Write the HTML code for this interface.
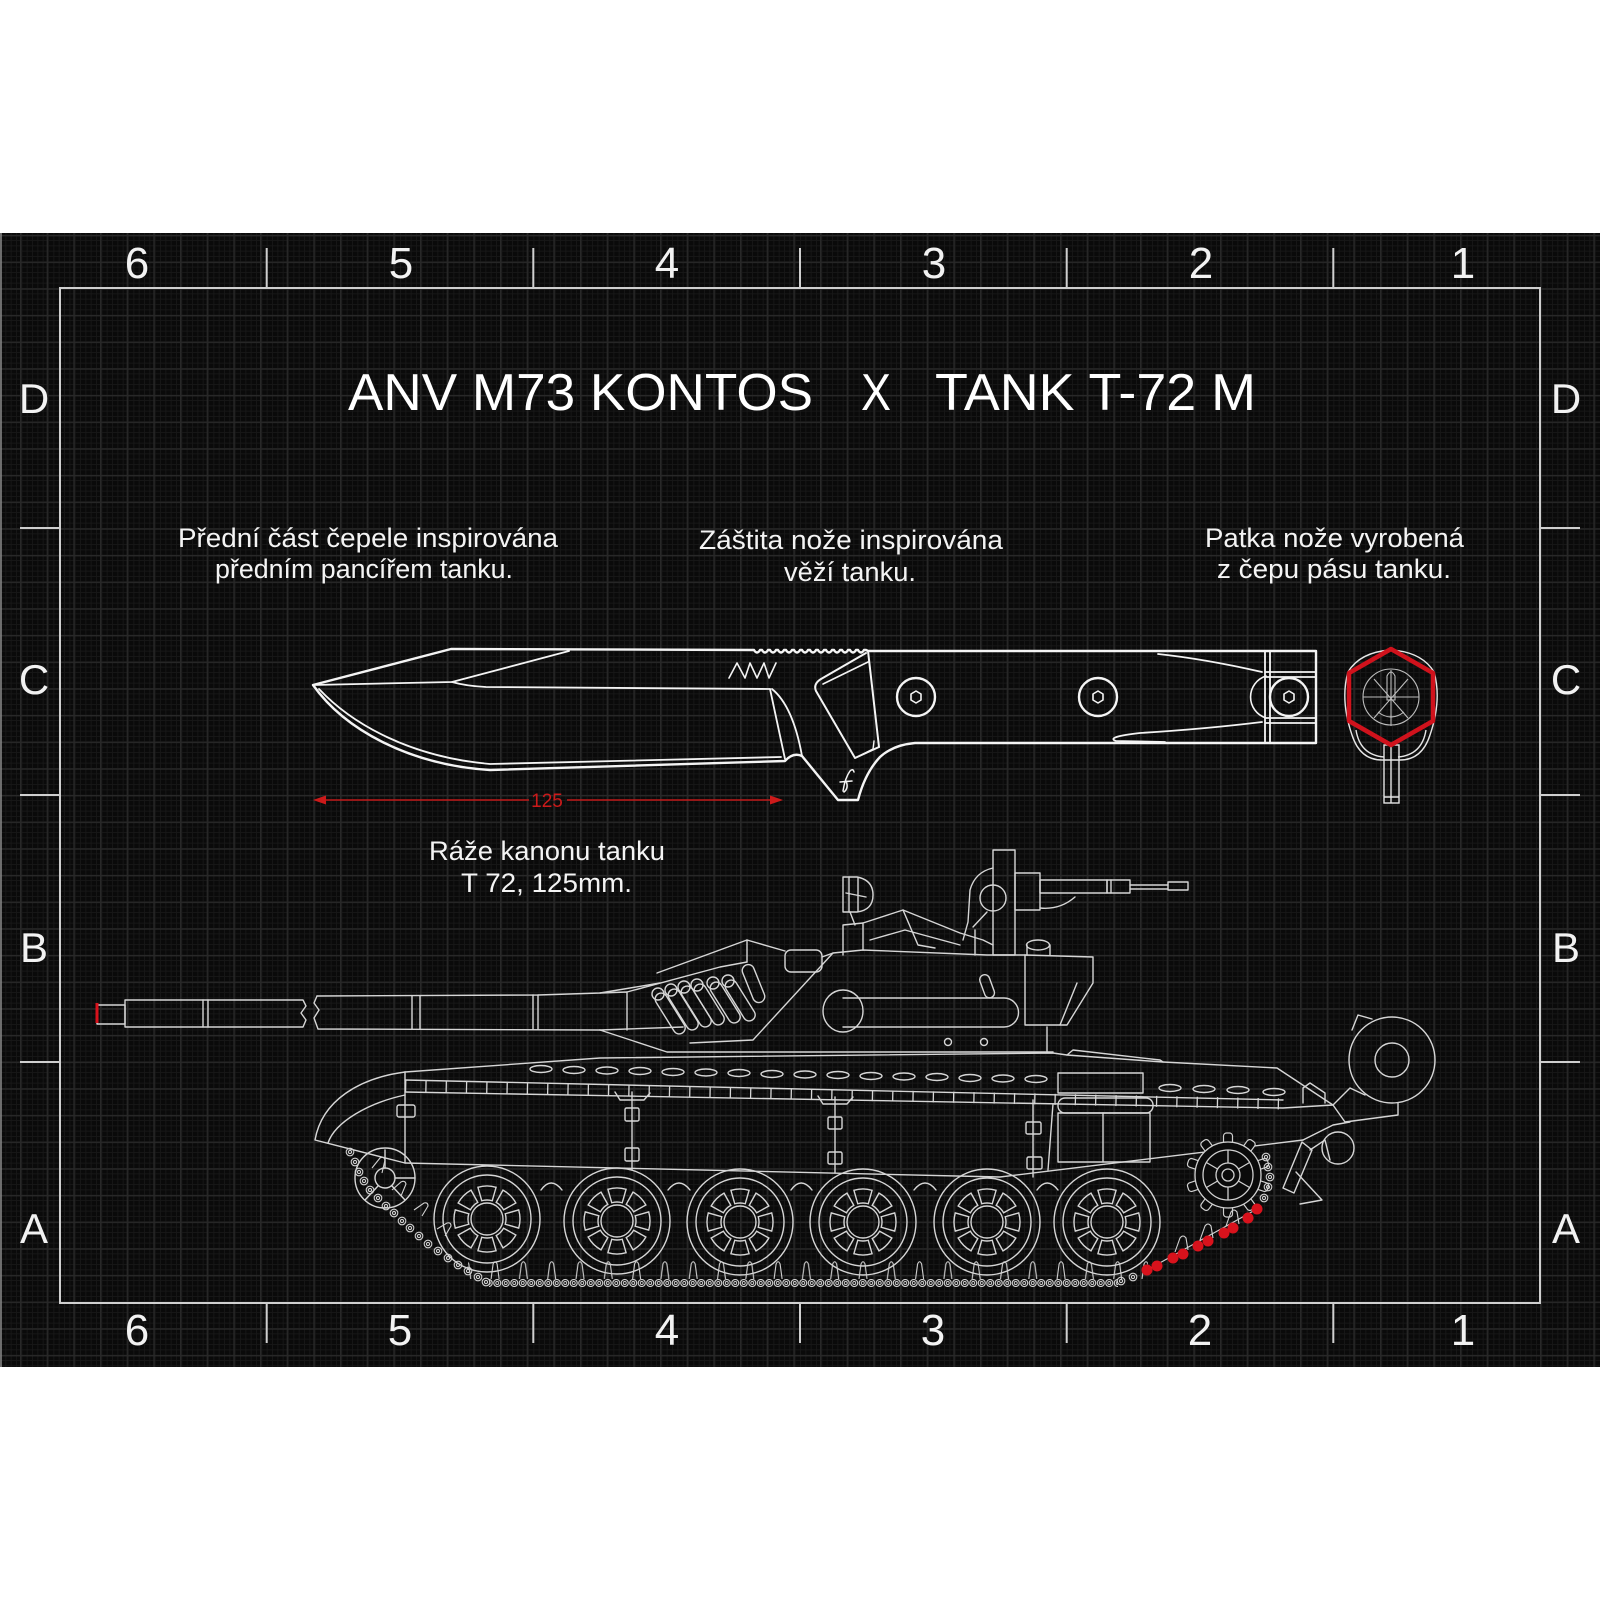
<!DOCTYPE html>
<html>
<head>
<meta charset="utf-8">
<style>
html,body{margin:0;padding:0;background:#fff;width:1600px;height:1600px;overflow:hidden}
svg{display:block}
</style>
</head>
<body>
<svg width="1600" height="1600" viewBox="0 0 1600 1600" xmlns="http://www.w3.org/2000/svg" xmlns:xlink="http://www.w3.org/1999/xlink">
<defs>
  <pattern id="gmin" x="0" y="0" width="5.3333" height="5.3333" patternUnits="userSpaceOnUse">
    <path d="M0 0.5H5.3333M0.5 0V5.3333" stroke="#171717" stroke-width="1" fill="none"/>
  </pattern>
  <pattern id="gmaj" x="20" y="21.7" width="26.667" height="26.667" patternUnits="userSpaceOnUse">
    <path d="M0 0.7H26.667M0.7 0V26.667" stroke="#282828" stroke-width="1.4" fill="none"/>
  </pattern>
  <pattern id="trk" x="0" y="1279" width="8.5" height="8" patternUnits="userSpaceOnUse">
    <circle cx="4.25" cy="4" r="3.5" fill="none" stroke="#d0d0d0" stroke-width="1.1"/>
    <circle cx="4.25" cy="4" r="1.5" fill="none" stroke="#d0d0d0" stroke-width="0.9"/>
  </pattern>
  <pattern id="horn" x="0" y="1258" width="28.3" height="21" patternUnits="userSpaceOnUse">
    <path d="M10,21 L12,6 Q14,1.5 16,6 L18,21" fill="none" stroke="#d0d0d0" stroke-width="1.1"/>
  </pattern>
  <g id="lk" fill="none" stroke="#d0d0d0" stroke-width="1.1">
    <circle r="3.8"/><circle r="1.6"/>
  </g>
  <path id="hole" d="M18.26,-5.24 L31.72,-9.10 A33,33 0 0 1 31.72,9.10 L18.26,5.24 A19,19 0 0 0 18.26,-5.24 Z"/>
  <g id="wh" fill="none" stroke="#d6d6d6" stroke-width="1.4">
    <circle r="53"/><circle r="44"/><circle r="16"/>
    <use xlink:href="#hole" transform="rotate(0)"/>
    <use xlink:href="#hole" transform="rotate(45)"/>
    <use xlink:href="#hole" transform="rotate(90)"/>
    <use xlink:href="#hole" transform="rotate(135)"/>
    <use xlink:href="#hole" transform="rotate(180)"/>
    <use xlink:href="#hole" transform="rotate(225)"/>
    <use xlink:href="#hole" transform="rotate(270)"/>
    <use xlink:href="#hole" transform="rotate(315)"/>
  </g>
  <rect id="tooth" x="-4.5" y="-42" width="9" height="12" rx="3" fill="#0b0b0b" stroke="#d0d0d0" stroke-width="1.2"/>
</defs>

<!-- white page -->
<rect x="0" y="0" width="1600" height="1600" fill="#ffffff"/>
<!-- dark band with grid -->
<rect x="0" y="233" width="1600" height="1134" fill="#0a0a0a"/>
<rect x="0" y="233" width="1600" height="1134" fill="url(#gmin)"/>
<rect x="0" y="233" width="1600" height="1134" fill="url(#gmaj)"/>
<line x1="1" y1="233" x2="1" y2="1367" stroke="#8a8a8a" stroke-width="1.5"/>

<!-- frame and ticks -->
<g stroke="#cfcfcf" stroke-width="2" fill="none">
  <rect x="60" y="288" width="1480" height="1015"/>
  <path d="M266.7,248V288M533.3,248V288M800,248V288M1066.7,248V288M1333.3,248V288"/>
  <path d="M266.7,1303V1343M533.3,1303V1343M800,1303V1343M1066.7,1303V1343M1333.3,1303V1343"/>
  <path d="M20,528H60M20,795H60M20,1062H60"/>
  <path d="M1540,528H1580M1540,795H1580M1540,1062H1580"/>
</g>

<!-- border labels -->
<g font-family="'Liberation Sans', sans-serif" fill="#f2f2f2" text-anchor="middle">
  <g font-size="44">
    <text x="137" y="278">6</text><text x="401" y="278">5</text><text x="667" y="278">4</text>
    <text x="934" y="278">3</text><text x="1201" y="278">2</text><text x="1463" y="278">1</text>
  </g>
  <g font-size="44">
    <text x="137" y="1345">6</text><text x="400" y="1345">5</text><text x="667" y="1345">4</text>
    <text x="933" y="1345">3</text><text x="1200" y="1345">2</text><text x="1463" y="1345">1</text>
  </g>
  <g font-size="42">
    <text x="34" y="413">D</text><text x="34" y="694">C</text><text x="34" y="962">B</text><text x="34" y="1243">A</text>
    <text x="1566" y="413">D</text><text x="1566" y="694">C</text><text x="1566" y="962">B</text><text x="1566" y="1243">A</text>
  </g>
</g>

<!-- title -->
<g font-family="'Liberation Sans', sans-serif" fill="#ffffff" font-size="52">
  <text x="348" y="410" textLength="465" lengthAdjust="spacingAndGlyphs">ANV M73 KONTOS</text>
  <text x="861" y="410" textLength="30" lengthAdjust="spacingAndGlyphs">X</text>
  <text x="935" y="410" textLength="321" lengthAdjust="spacingAndGlyphs">TANK T-72 M</text>
</g>

<!-- captions -->
<g font-family="'Liberation Sans', sans-serif" fill="#f4f4f4" font-size="27">
  <text x="178" y="547" textLength="380" lengthAdjust="spacingAndGlyphs">Přední část čepele inspirována</text>
  <text x="215" y="578" textLength="298" lengthAdjust="spacingAndGlyphs">předním pancířem tanku.</text>
  <text x="699" y="549" textLength="304" lengthAdjust="spacingAndGlyphs">Záštita nože inspirována</text>
  <text x="784" y="581" textLength="132" lengthAdjust="spacingAndGlyphs">věží tanku.</text>
  <text x="1205" y="547" textLength="259" lengthAdjust="spacingAndGlyphs">Patka nože vyrobená</text>
  <text x="1217" y="578" textLength="234" lengthAdjust="spacingAndGlyphs">z čepu pásu tanku.</text>
  <text x="429" y="860" textLength="236" lengthAdjust="spacingAndGlyphs">Ráže kanonu tanku</text>
  <text x="461" y="892" textLength="171" lengthAdjust="spacingAndGlyphs">T 72, 125mm.</text>
</g>

<!-- ================= KNIFE ================= -->
<g fill="none" stroke="#f4f4f4" stroke-width="2.4" stroke-linejoin="round" stroke-linecap="round">
  <path d="M313,685 L451,649 L754,650
           q3,5 6,0 l2,0 q3,5 6,0 l2,0 q3,5 6,0 l2,0 q3,5 6,0 l2,0 q3,5 6,0 l2,0
           q3,5 6,0 l2,0 q3,5 6,0 l2,0 q3,5 6,0 l2,0 q3,5 6,0 l2,0 q3,5 6,0 l2,0
           q3,5 6,0 l2,0 q3,5 6,0 l2,0 q3,5 6,0 l2,0 q3,5 6,0 l2,0
           L868,651 L1316,651 L1316,743 L915,743
           Q893,745 880,757 Q865,773 858,800 L838,800 L802,756 Q793,752 785,761
           L490,770 C410,765 345,730 313,685 Z"/>
  <path d="M319,689 C352,724 410,757 490,764 L781,757" stroke-width="1.8"/>
  <path d="M313,685 L452,682 L569,651" stroke-width="1.8"/>
  <path d="M452,682 Q466,686 486,687 L770,689" stroke-width="1.8"/>
  <path d="M770,689 L785,759" stroke-width="1.8"/>
  <path d="M772,689 Q793,706 802,756" stroke-width="1.8"/>
  <path d="M868,651 L879,747" stroke-width="2"/>
  <path d="M866,653 L821,679 Q813,684 816,691 L855,758 L879,747" stroke-width="2"/>
  <path d="M868,662 L823,684" stroke-width="1.6"/>
  <path d="M855,758 L873,749 L874,741" stroke-width="1.4"/>
  <path d="M843,791 Q845,778 850,771 Q853,768 854,772 M840,782 L852,781 M846,781 Q849,788 844,792" stroke-width="1.5"/>
  <path d="M729,678 L737,663 L745,678 L750,663 L757,678 L764,663 L769,678 L776,663" stroke-width="1.6"/>
  <circle cx="916" cy="697" r="19"/>
  <circle cx="1098" cy="697" r="19"/>
  <circle cx="1289" cy="697" r="19"/>
  <path d="M916,691 L921,694 L921,700 L916,703 L911,700 L911,694 Z" stroke-width="1.6"/>
  <path d="M1098,691 L1103,694 L1103,700 L1098,703 L1093,700 L1093,694 Z" stroke-width="1.6"/>
  <path d="M1289,691 L1294,694 L1294,700 L1289,703 L1284,700 L1284,694 Z" stroke-width="1.6"/>
  <path d="M1266,676 A22,22 0 0 0 1266,718" stroke-width="1.6"/>
  <path d="M1265,651 V743 M1270,651 V743 M1265,672 H1316 M1265,677 H1316 M1265,718 H1316 M1265,723 H1316" stroke-width="1.8"/>
  <path d="M1158,654 Q1205,659 1262,672" stroke-width="1.8"/>
  <path d="M1262,722 Q1205,729 1140,733 Q1105,737 1116,741 L1165,742" stroke-width="1.8"/>
</g>

<!-- pommel end view -->
<g fill="none" stroke="#e6e6e6" stroke-width="1.4">
  <path d="M1352,735 Q1340,700 1348,672 Q1360,652 1391,650 Q1422,652 1434,672 Q1442,700 1430,735 Q1422,760 1400,760 L1382,760 Q1360,760 1352,735 Z"/>
  <path d="M1356,730 Q1360,755 1384,757 M1426,730 Q1422,755 1398,757"/>
  <rect x="1384" y="745" width="15" height="58"/>
  <path d="M1391,745 V803 M1384,797 H1399"/>
</g>
<g fill="none" stroke="#bdbdbd" stroke-width="1.1">
  <circle cx="1391" cy="697" r="28"/>
  <path d="M1363,697 H1419"/>
  <path d="M1374,679 L1408,718 M1408,679 L1374,718 M1391,670 V726"/>
  <path d="M1387,676 Q1391,668 1395,676 L1395,700 L1387,700 Z"/>
  <path d="M1378,712 Q1391,722 1404,712"/>
</g>
<path d="M1391,649 L1433,673 L1433,721 L1391,745 L1349,721 L1349,673 Z" fill="none" stroke="#d0121c" stroke-width="4.5" stroke-linejoin="round"/>

<!-- dimension 125 -->
<g fill="#cc1a1a" stroke="none">
  <rect x="320" y="799.3" width="209" height="1.4"/>
  <rect x="567" y="799.3" width="204" height="1.4"/>
  <polygon points="313,800 326,795.5 326,804.5"/>
  <polygon points="783,800 770,795.5 770,804.5"/>
  <text x="547" y="807" font-family="'Liberation Sans', sans-serif" font-size="19" text-anchor="middle">125</text>
</g>

<!-- ================= TANK ================= -->
<g fill="none" stroke="#d6d6d6" stroke-width="1.4" stroke-linejoin="round" stroke-linecap="round">
  <rect x="97" y="1005" width="28" height="19"/>
  <path d="M125,1000 H303 L306,1006 L301,1013 L306,1020 L303,1027 H125 Z"/>
  <path d="M203,1000V1027 M208,1000V1027"/>
  <path d="M317,996 L314,1003 L319,1010 L314,1018 L318,1029 L600,1030"/>
  <path d="M317,996 L538,995 L600,993 L660,983"/>
  <path d="M412,996V1029 M420,996V1029 M533,995V1029 M538,995V1029"/>

  <path d="M600,993 L627,992 V1030"/>
  <path d="M627,992 L720,967 L747,962"/>
  <path d="M657,973 L747,940"/>
  <path d="M600,1030 L683,1027"/>
  <path d="M600,1030 L667,1052 L1053,1052"/>
  <path d="M690,1043 L753,1040 L833,953"/>
  <path d="M747,962 L747,940 L785,951"/>
  <rect x="785" y="950" width="37" height="22" rx="6"/>
  <path d="M822,957 L833,953 L863,950 L987,955 L1025,955"/>
  <path d="M843,955 V925 L863,923 V950"/>
  <path d="M863,923 L903,910 L960,933 L983,940 L993,945"/>
  <path d="M903,910 L918,945 L935,948"/>
  <path d="M870,940 L905,930 L960,945"/>
  <g>
    <rect x="-6" y="0" width="12" height="46" rx="6" transform="translate(658,994) rotate(-32)"/>
    <rect x="-6" y="0" width="12" height="46" rx="6" transform="translate(671,990) rotate(-32)"/>
    <rect x="-6" y="0" width="12" height="46" rx="6" transform="translate(684,987) rotate(-32)"/>
    <rect x="-6" y="0" width="12" height="46" rx="6" transform="translate(697,985) rotate(-32)"/>
    <rect x="-6" y="0" width="12" height="46" rx="6" transform="translate(713,983) rotate(-32)"/>
    <rect x="-6" y="0" width="12" height="46" rx="6" transform="translate(728,981) rotate(-32)"/>
    <ellipse cx="658" cy="994" rx="6" ry="6"/>
    <ellipse cx="671" cy="990" rx="6" ry="6"/>
    <ellipse cx="684" cy="987" rx="6" ry="6"/>
    <ellipse cx="697" cy="985" rx="6" ry="6"/>
    <ellipse cx="713" cy="983" rx="6" ry="6"/>
    <ellipse cx="728" cy="981" rx="6" ry="6"/>
    <rect x="-6" y="0" width="12" height="40" rx="6" transform="translate(746,965) rotate(-22)"/>
  </g>
  <path d="M843,998 H1004 A14.5,14.5 0 0 1 1004,1027 H843"/>
  <ellipse cx="843" cy="1011" rx="20" ry="21"/>
  <rect x="-5" y="0" width="10" height="24" rx="5" transform="translate(983,975) rotate(-20)"/>
  <circle cx="948" cy="1042" r="3.5"/>
  <circle cx="984" cy="1042" r="3.5"/>
  <path d="M843,877 H857 Q873,880 873,895 Q873,910 857,912 H843 Z"/>
  <path d="M849,877 V912 M846,893 L866,897 M858,878 V911"/>
  <path d="M850,912 L855,925"/>
  <path d="M1025,955 L1093,957 V983 L1067,1025 H1025 Z"/>
  <path d="M1077,983 L1060,1025 M1047,1027 V1052"/>
  <path d="M1027,955 V945 M1050,955 V945"/>
  <ellipse cx="1038" cy="945" rx="11.5" ry="5"/>
  <rect x="993" y="850" width="22" height="105"/>
  <rect x="1015" y="873" width="25" height="37"/>
  <rect x="1040" y="880" width="67" height="13"/>
  <rect x="1107" y="880" width="23" height="13"/>
  <path d="M1111,880 V893 M1130,885 H1168 M1130,889 H1168"/>
  <rect x="1168" y="882" width="20" height="8"/>
  <path d="M1040,908 Q1060,910 1075,897"/>
  <circle cx="993" cy="898" r="13"/>
  <path d="M963,940 L968,922 L970,890 Q975,872 993,868"/>
  <path d="M973,927 L987,912 M975,955 L975,930"/>

  <path d="M405,1072 C360,1078 322,1100 315,1140 L405,1163"/>
  <path d="M405,1095 C368,1103 335,1122 328,1143"/>
  <path d="M405,1072 V1163"/>
  <rect x="397" y="1105" width="18" height="12" rx="2"/>
  <path d="M405,1072 L600,1058 L1053,1053 L1067,1055 L1163,1062 L1277,1068 L1333,1105"/>
  <path d="M405,1080 L1283,1100"/>
  <path d="M405,1092 L1283,1108 L1333,1105"/>
  <path d="M405,1086 L1283,1104" stroke-width="11" stroke-dasharray="1.3 19" stroke-linecap="butt"/>
  <g>
    <ellipse cx="541" cy="1069" rx="11" ry="3.5"/>
    <ellipse cx="574" cy="1070" rx="11" ry="3.5"/>
    <ellipse cx="607" cy="1070.5" rx="11" ry="3.5"/>
    <ellipse cx="640" cy="1071" rx="11" ry="3.5"/>
    <ellipse cx="673" cy="1072" rx="11" ry="3.5"/>
    <ellipse cx="706" cy="1072.5" rx="11" ry="3.5"/>
    <ellipse cx="739" cy="1073" rx="11" ry="3.5"/>
    <ellipse cx="772" cy="1074" rx="11" ry="3.5"/>
    <ellipse cx="805" cy="1074.5" rx="11" ry="3.5"/>
    <ellipse cx="838" cy="1075" rx="11" ry="3.5"/>
    <ellipse cx="871" cy="1076" rx="11" ry="3.5"/>
    <ellipse cx="904" cy="1076.5" rx="11" ry="3.5"/>
    <ellipse cx="937" cy="1077" rx="11" ry="3.5"/>
    <ellipse cx="970" cy="1078" rx="11" ry="3.5"/>
    <ellipse cx="1003" cy="1078.5" rx="11" ry="3.5"/>
    <ellipse cx="1036" cy="1079" rx="11" ry="3.5"/>
    <ellipse cx="1170" cy="1088" rx="11" ry="3.5"/>
    <ellipse cx="1204" cy="1089" rx="11" ry="3.5"/>
    <ellipse cx="1238" cy="1090" rx="11" ry="3.5"/>
    <ellipse cx="1274" cy="1092" rx="11" ry="3.5"/>
  </g>
  <path d="M405,1163 L1000,1177 L1303,1140"/>
  <path d="M632,1092 V1170 M835,1097 V1173 M1033,1100 V1177"/>
  <rect x="625" y="1108" width="14" height="13" rx="1.5"/>
  <rect x="625" y="1148" width="14" height="13" rx="1.5"/>
  <rect x="828" y="1117" width="14" height="12" rx="1.5"/>
  <rect x="828" y="1152" width="14" height="12" rx="1.5"/>
  <rect x="1026" y="1122" width="15" height="12" rx="1.5"/>
  <rect x="1027" y="1157" width="15" height="12" rx="1.5"/>
  <path d="M615,1092 L620,1100 H644 L650,1093 M818,1096 L823,1104 H847 L853,1097"/>
  <rect x="1058" y="1073" width="85" height="20"/>
  <rect x="1058" y="1098" width="95" height="15" rx="7"/>
  <rect x="1058" y="1113" width="92" height="49"/>
  <path d="M1103,1113 V1162 M1053,1104 L1048,1170"/>
  <path d="M1067,1055 L1073,1050 L1160,1060 L1163,1062"/>
  <path d="M1303,1103 V1088 L1310,1083 L1325,1093 V1103"/>
  <circle cx="1392" cy="1060" r="43"/>
  <circle cx="1392" cy="1060" r="17"/>
  <path d="M1352,1030 L1358,1015 L1372,1019"/>
  <path d="M1333,1105 L1350,1088 L1365,1095 M1333,1105 L1345,1122 L1398,1115 V1103"/>
  <path d="M1303,1140 L1333,1125 L1350,1122"/>
  <circle cx="1338" cy="1148" r="16"/>
  <path d="M1302,1142 L1283,1188 L1294,1193 L1312,1150 Z"/>
  <path d="M1296,1172 L1322,1200 L1300,1204"/>
  <path d="M1310,1150 L1325,1140 L1330,1160"/>

  <circle cx="385" cy="1178" r="30"/>
  <circle cx="385" cy="1178" r="10"/>
  <path d="M385,1168 V1150 M395,1178 H415 M378,1186 L365,1200 M392,1186 L405,1200"/>

  <path d="M541,1190 Q551,1176 562,1190 M668,1190 Q679,1176 690,1190 M791,1190 Q801,1176 812,1190 M914,1190 Q925,1176 936,1190 M1037,1190 Q1047,1176 1058,1190"/>
</g>

<use xlink:href="#wh" transform="translate(487,1219)"/>
<use xlink:href="#wh" transform="translate(617,1221)"/>
<use xlink:href="#wh" transform="translate(740,1222)"/>
<use xlink:href="#wh" transform="translate(863,1222)"/>
<use xlink:href="#wh" transform="translate(987,1222)"/>
<use xlink:href="#wh" transform="translate(1107,1222)"/>

<g transform="translate(1228,1175)">
  <use xlink:href="#tooth" transform="rotate(0)"/>
  <use xlink:href="#tooth" transform="rotate(36)"/>
  <use xlink:href="#tooth" transform="rotate(72)"/>
  <use xlink:href="#tooth" transform="rotate(108)"/>
  <use xlink:href="#tooth" transform="rotate(144)"/>
  <use xlink:href="#tooth" transform="rotate(180)"/>
  <use xlink:href="#tooth" transform="rotate(216)"/>
  <use xlink:href="#tooth" transform="rotate(252)"/>
  <use xlink:href="#tooth" transform="rotate(288)"/>
  <use xlink:href="#tooth" transform="rotate(324)"/>
  <g fill="none" stroke="#d0d0d0" stroke-width="1.3">
    <circle r="33" fill="#0b0b0b"/>
    <circle r="25"/><circle r="12"/><circle r="6"/>
    <path d="M0,-12V-25 M10.4,-6 L21.6,-12.5 M10.4,6 L21.6,12.5 M0,12V25 M-10.4,6 L-21.6,12.5 M-10.4,-6 L-21.6,-12.5"/>
  </g>
</g>

<rect x="489" y="1279" width="629" height="8" fill="url(#trk)"/>
<rect x="468" y="1258" width="680" height="21" fill="url(#horn)"/>
<use xlink:href="#lk" x="350" y="1152"/><use xlink:href="#lk" x="355" y="1162"/>
<use xlink:href="#lk" x="359" y="1172"/><use xlink:href="#lk" x="364" y="1181"/>
<use xlink:href="#lk" x="370" y="1190"/><use xlink:href="#lk" x="378" y="1198"/>
<use xlink:href="#lk" x="386" y="1206"/><use xlink:href="#lk" x="394" y="1213"/>
<use xlink:href="#lk" x="402" y="1221"/><use xlink:href="#lk" x="410" y="1228"/>
<use xlink:href="#lk" x="419" y="1236"/><use xlink:href="#lk" x="428" y="1244"/>
<use xlink:href="#lk" x="438" y="1251"/><use xlink:href="#lk" x="448" y="1258"/>
<use xlink:href="#lk" x="458" y="1265"/><use xlink:href="#lk" x="468" y="1271"/>
<use xlink:href="#lk" x="478" y="1277"/><use xlink:href="#lk" x="486" y="1282"/>
<g fill="none" stroke="#d0d0d0" stroke-width="1.1">
  <path d="M372,1168 L380,1158 Q384,1156 385,1160 L382,1173"/>
  <path d="M392,1190 L401,1182 Q405,1180 406,1184 L401,1196"/>
  <path d="M414,1210 L424,1203 Q428,1202 428,1206 L422,1216"/>
  <path d="M437,1229 L447,1223 Q451,1222 451,1226 L445,1236"/>
</g>
<use xlink:href="#lk" x="1121" y="1281"/><use xlink:href="#lk" x="1133" y="1277"/>
<use xlink:href="#lk" x="1264" y="1198"/><use xlink:href="#lk" x="1268" y="1187"/>
<use xlink:href="#lk" x="1270" y="1177"/><use xlink:href="#lk" x="1268" y="1167"/>
<use xlink:href="#lk" x="1266" y="1157"/>
<path d="M1147,1270 L1257,1209" stroke="#d0d0d0" stroke-width="1.2"/>
<g fill="#d8121c">
  <circle cx="1147" cy="1270" r="5.5"/><circle cx="1157" cy="1266" r="5.5"/>
  <circle cx="1173" cy="1258" r="5.5"/><circle cx="1183" cy="1254" r="5.5"/>
  <circle cx="1198" cy="1246" r="5.5"/><circle cx="1208" cy="1241" r="5.5"/>
  <circle cx="1224" cy="1233" r="5.5"/><circle cx="1233" cy="1228" r="5.5"/>
  <circle cx="1248" cy="1218" r="5.5"/><circle cx="1257" cy="1209" r="5.5"/>
</g>
<g fill="none" stroke="#d0d0d0" stroke-width="1.1">
  <path d="M1175,1252 L1180,1238 Q1183,1234 1186,1238 L1188,1250"/>
  <path d="M1200,1240 L1205,1226 Q1208,1222 1211,1226 L1213,1238"/>
  <path d="M1226,1226 L1231,1212 Q1234,1208 1237,1212 L1239,1224"/>
</g>

<path d="M97,1003 V1023" stroke="#d8121c" stroke-width="3"/>
</svg>
</body>
</html>
